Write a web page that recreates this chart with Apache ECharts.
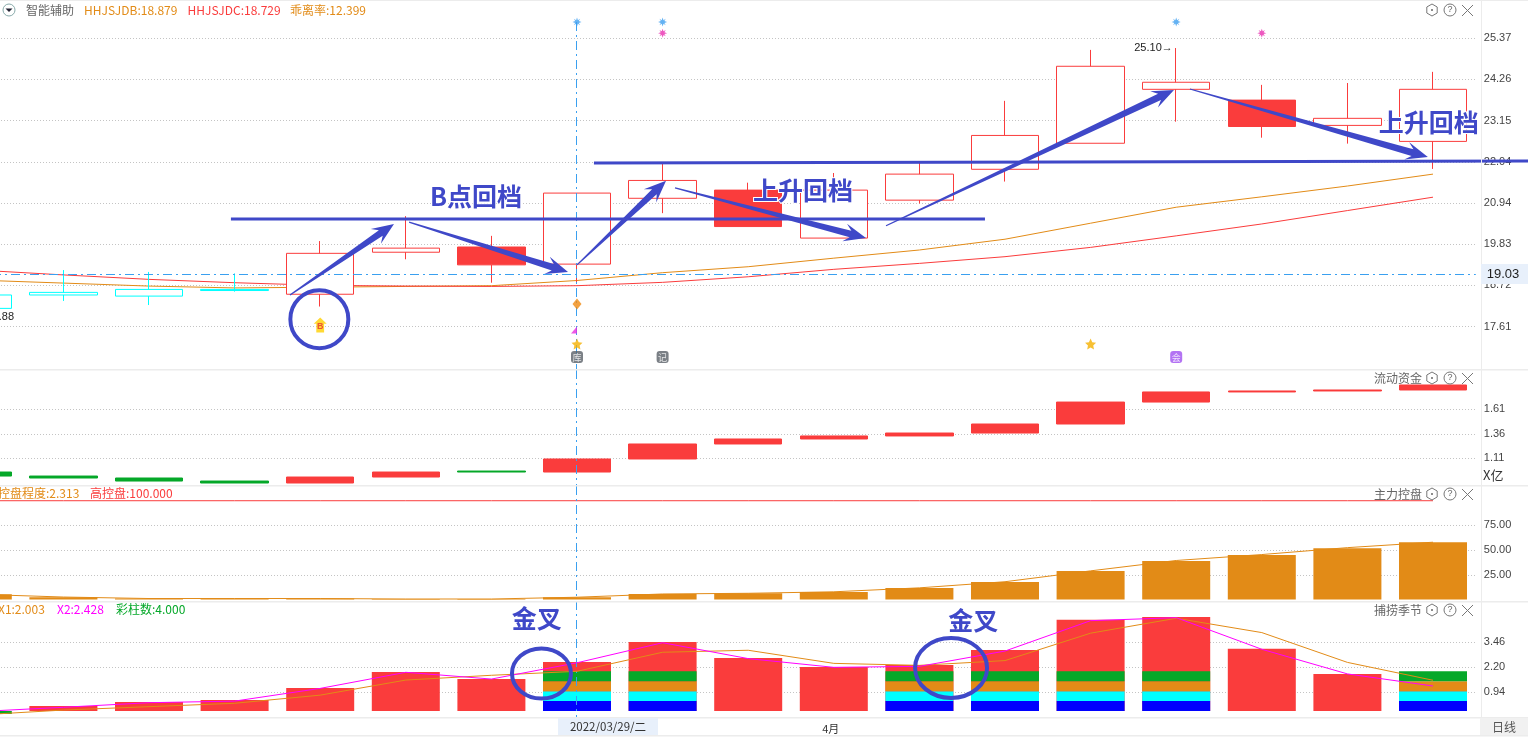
<!DOCTYPE html>
<html><head><meta charset="utf-8">
<style>html,body{margin:0;padding:0;background:#fff;overflow:hidden}#c{width:1528px;height:738px}</style>
<script src="https://cdn.jsdelivr.net/npm/echarts@6/dist/echarts.min.js"></script>
</head><body><div id="c"></div>
<script>
const categories=['03/18','03/21','03/22','03/23','03/24','03/25','03/28','03/29','03/30','03/31','04/01','04/06','04/07','04/08','04/11','04/12','04/13','04/14'];
const xLabels=['','','','','','','','','','','4月','','','','','','',''];
const crossDate='03/29';
// main panel
const candleKind=['c','c','c','c','h','h','f','h','h','f','h','h','h','h','h','f','h','h'];
const candleOpen=[18.10,18.46,18.43,18.58,18.48,19.61,19.75,19.29,21.06,21.28,19.99,21.01,21.84,22.54,23.99,23.70,23.02,22.59];
const candleClose=[18.46,18.53,18.61,18.61,19.58,19.72,19.27,21.20,21.54,20.30,21.28,21.71,22.75,24.61,24.18,22.99,23.21,23.99];
const candleLow=[18.10,18.30,18.19,18.55,18.15,19.42,18.79,18.80,20.66,20.30,19.99,20.92,21.51,22.54,23.12,22.69,22.53,21.85];
const candleHigh=[18.46,19.13,19.08,19.04,19.91,20.58,20.05,21.20,22.02,21.48,21.74,22.02,23.68,25.05,25.10,24.11,24.16,24.46];
const hhjsjdb=[18.86,18.78,18.70,18.65,18.67,18.69,18.71,18.85,19.06,19.22,19.45,19.67,19.96,20.39,20.82,21.10,21.39,21.71];
const hhjsjdc=[19.13,19.00,18.88,18.79,18.72,18.70,18.69,18.71,18.80,18.95,19.15,19.31,19.49,19.74,20.05,20.37,20.73,21.09];
const priceTicks=[25.37,24.26,23.15,22.04,20.94,19.83,18.72,17.61];
const crossPrice=19.03;
// flow panel
const flowKind=['g','g','g','g','r','r','g','r','r','r','r','r','r','r','r','r','r','r'];
const flowFrom=[0.970,0.929,0.909,0.878,0.858,0.919,0.970,0.970,1.103,1.256,1.307,1.338,1.368,1.460,1.684,1.787,1.797,1.807];
const flowTo=[0.929,0.909,0.878,0.858,0.919,0.970,0.980,1.103,1.256,1.307,1.338,1.368,1.460,1.684,1.787,1.797,1.807,1.858];
const flowTicks=[1.61,1.36,1.11];
// control panel
const ctrlBars=[5.3,2.2,1,1,1,0.5,0.5,2.3,5.6,6.3,7.6,11.6,17.7,28.8,39,45,52,58];
const ctrlLine=[5.3,2.5,1,1,1,0.5,0.5,2.3,5.6,6.3,7.8,11.8,18,29,39.5,45.5,52.5,58];
const ctrlHigh=[100,100,100,100,100,100,100,100,100,100,100,100,100,100,100,100,100,100];
const ctrlTicks=[75,50,25];
// season panel
const seasonRed=[null,0.25,0.45,0.55,1.16,1.96,1.61,2.47,3.48,2.67,2.22,2.32,3.07,4.59,4.74,3.13,1.87,1.26];
const seasonNeg=[-0.15,null,null,null,null,null,null,null,null,null,null,null,null,null,null,null,null,null];
const colorBand=[null,null,null,null,null,null,null,0.5,0.5,null,null,0.5,0.5,0.5,0.5,null,null,0.5];
const x1Line=[-0.2,0.05,0.22,0.39,0.8,1.56,1.8,2.0,2.96,3.06,2.4,2.3,2.54,3.92,4.67,3.95,2.45,1.55];
const x2Line=[-0.03,0.19,0.42,0.5,1.14,1.95,1.61,2.43,3.44,2.64,2.2,2.25,3.02,4.55,4.7,3.11,1.87,1.26];
const seasonTicks=[3.46,2.20,0.94];
// hand-drawn annotations, in category-index / value units
const mainArrows=[[3.647,18.46,4.862,20.37],[5.038,20.42,6.895,19.08],[7.0,19.27,8.04,21.53],[8.145,21.34,10.376,19.99],[10.61,20.32,13.974,23.97],[14.16,24.0,16.94,22.17]];
const mainLines=[[2.957,20.50,11.766,20.50],[7.198,22.01,18.11,22.06]];
const mainRings=[[3.99,17.81]];
const seasonRings=[[6.585,1.89],[11.37,2.17]];
const mainNotes=[[5.82,21.10],[9.64,21.26],[16.95,23.11]];
const mainNoteText=['B点回档','上升回档','上升回档'];
const seasonNotes=[[6.53,4.64],[11.63,4.54]];
const seasonNoteText=['金叉','金叉'];
const marksBlue=[[7,25.80],[8,25.80],[14,25.80]];
const marksPink=[[8,25.50],[15,25.50]];
const marksStar=[[7,17.14],[13,17.14]];
const marksDiamond=[[7,18.22]];
const marksFlag=[[7,17.52]];
const marksB=[[4,17.65]];
const marksDocGray=[[7,16.79],[8,16.79]];
const marksDocPurple=[[14,16.79]];

const RED='#fa3c3c',ORG='#e28b17',GRN='#05a829',CY='#00ffff',BLU='#0000ff',INK='#3f48c8',XB='#3aa0f0',GT='#666';
const FONT='"Noto Sans CJK SC","Liberation Sans",sans-serif';
const idx=categories.map((_,i)=>i);
const pick=(kinds,k,f)=>idx.map(i=>kinds[i]===k?f(i):'-');
const candleRow=i=>[candleOpen[i],candleClose[i],candleLow[i],candleHigh[i]];
const flowRow=i=>[flowFrom[i],flowTo[i],Math.min(flowFrom[i],flowTo[i]),Math.max(flowFrom[i],flowTo[i])];

const grids=[[2,367],[370,115],[486,114],[601,116]].map(([top,height])=>({left:-65,width:1540.8,top,height,outerBoundsMode:'none'}));
const xCat=g=>({type:'category',gridIndex:g,data:categories,boundaryGap:true,axisLine:{show:false},axisTick:{show:false},splitLine:{show:false},
  axisLabel:g===3?{show:true,interval:0,margin:6,padding:[0,6,0,0],fontSize:11,color:'#333',fontFamily:FONT,formatter:(v,i)=>xLabels[i]}:{show:false}});
const xVal=g=>({type:'value',gridIndex:g,min:-0.5,max:17.5,show:false});
const yAx=(g,min,max,ticks,d)=>({type:'value',gridIndex:g,position:'right',min,max,scale:true,axisLine:{show:false},
  axisTick:{show:false,customValues:ticks},
  axisLabel:{show:true,customValues:ticks,inside:false,margin:8,align:'left',fontSize:11,color:'#444',fontFamily:'"Liberation Sans",sans-serif',formatter:v=>Number(v).toFixed(d)},
  splitLine:{show:true,lineStyle:{color:'#c4c4c4',type:[1,2],width:1}}});
const DD=[9,4,2,4];
const line=(name,data,color,g,extra)=>Object.assign({type:'line',name,data,xAxisIndex:g,yAxisIndex:g,symbol:'none',z:2,animation:false,lineStyle:{color,width:1}},extra||{});
const candle=(name,data,fill,border,z)=>({type:'candlestick',name,data,xAxisIndex:0,yAxisIndex:0,barWidth:68,z:z||3,animation:false,
  itemStyle:{color:fill,color0:fill,borderColor:border,borderColor0:border,borderWidth:1}});
const flowC=(name,data,c)=>({type:'candlestick',name,data,xAxisIndex:1,yAxisIndex:1,barWidth:68,z:3,animation:false,
  itemStyle:{color:c,color0:c,borderColor:c,borderColor0:c,borderWidth:1}});
const bar=(name,data,color,g,extra)=>Object.assign({type:'bar',name,data,xAxisIndex:g,yAxisIndex:g,barWidth:68,z:2,animation:false,itemStyle:{color}},extra||{});
const pts=(name,data,symbol,size,color,extra)=>Object.assign({type:'scatter',name,data,xAxisIndex:4,yAxisIndex:0,symbol,symbolSize:size,z:5,animation:false,itemStyle:{color},silent:true},extra||{});
const BURST='path://M5 0L6 3L8.5 1.5L7 4L10 5L7 6L8.5 8.5L6 7L5 10L4 7L1.5 8.5L3 6L0 5L3 4L1.5 1.5L4 3Z';
const UP='path://M5 0L10 5L8 5L8 12L2 12L2 5L0 5Z';

function arrowItem(p,api){
  const a=api.coord([api.value(0),api.value(1)]),b=api.coord([api.value(2),api.value(3)]);
  const dx=b[0]-a[0],dy=b[1]-a[1],L=Math.hypot(dx,dy),ux=dx/L,uy=dy/L,nx=-uy,ny=ux;
  const at=(s,w)=>[a[0]+ux*s+nx*w,a[1]+uy*s+ny*w];
  const h=22,neck=L-h+6;
  return {type:'polygon',shape:{points:[at(0,0.6),at(neck,3.4),at(L-h,9),b,at(L-h,-9),at(neck,-3.4),at(0,-0.6)]},style:{fill:INK}};
}
const lineItem=(p,api)=>{const a=api.coord([api.value(0),api.value(1)]),b=api.coord([api.value(2),api.value(3)]);
  return {type:'line',shape:{x1:a[0],y1:a[1],x2:b[0],y2:b[1]},style:{stroke:INK,lineWidth:3}};};
const crossItem=(p,api)=>{const a=api.coord([api.value(0),api.value(1)]),b=api.coord([api.value(0),api.value(2)]);
  return {type:'line',shape:{x1:a[0]-0.5,y1:a[1],x2:b[0]-0.5,y2:b[1]},style:{stroke:XB,lineWidth:1,lineDash:DD}};};
const ringItem=(rx,ry)=>(p,api)=>{const c=api.coord([api.value(0),api.value(1)]);
  const i=p.dataIndex;const r=Array.isArray(rx)?rx[i]:rx,q=Array.isArray(ry)?ry[i]:ry;
  return {type:'ellipse',shape:{cx:c[0],cy:c[1],rx:r,ry:q},style:{stroke:INK,lineWidth:4,fill:null}};};
const noteItem=texts=>(p,api)=>{const c=api.coord([api.value(0),api.value(1)]);
  return {type:'text',style:{text:texts[p.dataIndex],x:c[0],y:c[1],align:'center',verticalAlign:'middle',fill:INK,stroke:'#fff',lineWidth:2,
    font:'bold 25px '+FONT,shadowBlur:4,shadowColor:'rgba(90,90,120,.6)',shadowOffsetX:1,shadowOffsetY:1}};};
const custom=(name,data,renderItem,xi,yi,z)=>({type:'custom',name,data,renderItem,xAxisIndex:xi,yAxisIndex:yi,z:z||20,clip:false,silent:true,animation:false});
const smallNote=[[13.96,25.11,'25.10→'],[0.423,17.87,'18.88']];
const smallItem=(p,api)=>{const c=api.coord([api.value(0),api.value(1)]);
  return {type:'text',style:{text:smallNote[p.dataIndex][2],x:c[0],y:c[1],align:'right',verticalAlign:'middle',fill:'#222',font:'11px "Liberation Sans",sans-serif'}};};

const T=(text,x,y,fill,o)=>Object.assign({type:'text',z:60,style:Object.assign({text,x,y,fill,font:'12px '+FONT,verticalAlign:'middle'},o||{})});
const R=(x,y,w,h,fill,z)=>({type:'rect',z:z||50,shape:{x,y,width:w,height:h},style:{fill}});
function icons(y){
  const hex=[0,1,2,3,4,5].map(k=>[1432+6*Math.cos(Math.PI/6+k*Math.PI/3),y+6*Math.sin(Math.PI/6+k*Math.PI/3)]);
  return [
  {type:'polygon',z:60,shape:{points:hex},style:{fill:null,stroke:'#777',lineWidth:1}},
  {type:'circle',z:60,shape:{cx:1432,cy:y,r:1},style:{fill:'#666'}},
  {type:'circle',z:60,shape:{cx:1450,cy:y,r:6},style:{fill:null,stroke:'#777',lineWidth:1}},
  T('?',1450,y,'#666',{align:'center',font:'9px "Liberation Sans"'}),
  {type:'line',z:60,shape:{x1:1462,y1:y-5,x2:1473,y2:y+6},style:{stroke:'#777',lineWidth:1}},
  {type:'line',z:60,shape:{x1:1473,y1:y-5,x2:1462,y2:y+6},style:{stroke:'#777',lineWidth:1}}];}
const chrome=[
  R(0,0,1528,1,'#ececec'),R(0,369,1528,1.5,'#ececec'),R(0,485,1528,1.5,'#ececec'),R(0,601,1528,1.5,'#ececec'),R(0,717,1528,1.5,'#ececec'),R(0,735,1528,1.5,'#ececec'),
  R(1481,0,1,717,'#ececec'),R(1480,718,48,17,'#f1f1f1'),T('日线',1504,727,'#555',{align:'center'}),
  R(558,718,100,17,'#e8f0fb'),T('2022/03/29/二',608,727,'#333',{align:'center',font:'11.5px '+FONT}),
  R(1481,264,47,20,'#e8f0fb'),T('19.03',1503,274,'#222',{align:'center',font:'13px "Liberation Sans"'}),
  {type:'circle',z:60,shape:{cx:9,cy:10,r:6},style:{fill:'#fff',stroke:'#8aa',lineWidth:1}},
  {type:'polygon',z:61,shape:{points:[[5.5,8.5],[12.5,8.5],[9,12]]},style:{fill:'#223'}},
  T('智能辅助',26,10.5,GT),T('HHJSJDB:18.879',84,10.5,ORG),T('HHJSJDC:18.729',187.5,10.5,RED),T('乖离率:12.399',290,10.5,ORG),
  ...icons(10),
  T('流动资金',1422,378,GT,{align:'right'}),...icons(378),
  T('主力控盘',1422,494,GT,{align:'right'}),...icons(494),
  T('捕捞季节',1422,610,GT,{align:'right'}),...icons(610),
  T('X亿',1483,475,'#333',{font:'13px '+FONT}),
  T('控盘程度:2.313',-2,493,ORG),T('高控盘:100.000',90,493,RED),
  T('X1:2.003',-2,609,ORG),T('X2:2.428',57,609,'#f0f'),T('彩柱数:4.000',116,609,GRN)
];

const series=[
  line('HHJSJDB',hhjsjdb,ORG,0),
  line('HHJSJDC',hhjsjdc,RED,0,{markLine:{silent:true,symbol:'none',label:{show:false},animation:false,lineStyle:{color:XB,type:DD,width:1},data:[{yAxis:crossPrice}]}}),
  candle('cyan',pick(candleKind,'c',candleRow),'#fff',CY),
  candle('hollow',pick(candleKind,'h',candleRow),'#fff',RED),
  candle('filled',pick(candleKind,'f',candleRow),RED,RED),
  flowC('flowRed',pick(flowKind,'r',flowRow),RED),
  flowC('flowGreen',pick(flowKind,'g',flowRow),GRN),
  bar('ctrl',ctrlBars,ORG,2),
  line('ctrlLine',ctrlLine,ORG,2,{z:3}),
  line('ctrlHigh',ctrlHigh,RED,2,{z:3}),
  bar('seasonRed',seasonRed,RED,3,{barGap:'-100%',stack:'r'}),
  bar('seasonNeg',seasonNeg,GRN,3,{stack:'r'}),
  bar('b1',colorBand,BLU,3,{stack:'c',z:3}),
  bar('b2',colorBand,CY,3,{stack:'c',z:3}),
  bar('b3',colorBand,ORG,3,{stack:'c',z:3}),
  bar('b4',colorBand,GRN,3,{stack:'c',z:3}),
  line('X1',x1Line,ORG,3,{z:4}),
  line('X2',x2Line,'#ff00ff',3,{z:4}),
  // crosshair in each panel
  custom('crossMain',[[crossDate,25.80,16.47]],crossItem,0,0,4),
  custom('crossFlow',[[crossDate,2.011,0.8376]],crossItem,1,1,4),
  custom('crossCtrl',[[crossDate,114.9,-0.5]],crossItem,2,2,4),
  custom('crossSeason',[[crossDate,5.54,-0.3]],crossItem,3,3,4),
  // signal marks
  pts('blue',marksBlue,BURST,9,'#3d9ff0'),
  pts('pink',marksPink,BURST,9,'#e830b0'),
  pts('star',marksStar,'path://M5 0L6.5 3.4L10 3.8L7.4 6.2L8.1 10L5 8L1.9 10L2.6 6.2L0 3.8L3.5 3.4Z',11,'#f5b000'),
  pts('diamond',marksDiamond,'diamond',[9,11],'#f08a10'),
  pts('flag',marksFlag,'path://M10 0L10 10L0 10Z',[6,7],'#e830e0',{symbolOffset:[-3,0]}),
  pts('B',marksB,UP,[13,15],'#ffd000',{label:{show:true,formatter:'B',position:'inside',offset:[0,1],color:'#e83030',fontSize:9,fontWeight:'bold'}}),
  pts('docGray',marksDocGray,'roundRect',[12,12],'#5a6068',{label:{show:true,formatter:params=>params.dataIndex===0?'库':'记',color:'#fff',fontSize:9,position:'inside',fontFamily:FONT}}),
  pts('docPurple',marksDocPurple,'roundRect',[12,12],'#a050f0',{label:{show:true,formatter:'会',color:'#fff',fontSize:9,position:'inside',fontFamily:FONT}}),
  // annotations
  custom('mainLines',mainLines,lineItem,4,0),
  custom('mainArrows',mainArrows,arrowItem,4,0),
  custom('mainRings',mainRings,ringItem(29,29),4,0),
  custom('mainNotes',mainNotes,noteItem(mainNoteText),4,0),
  custom('smallNotes',smallNote.map(r=>[r[0],r[1]]),smallItem,4,0),
  custom('seasonRings',seasonRings,ringItem([29.5,36],[25,30]),5,3),
  custom('seasonNotes',seasonNotes,noteItem(seasonNoteText),5,3)
];

const chart=echarts.init(document.getElementById('c'),null,{renderer:'canvas'});
chart.setOption({animation:false,backgroundColor:'#fff',grid:grids,
  xAxis:[xCat(0),xCat(1),xCat(2),xCat(3),xVal(0),xVal(3)],
  yAxis:[yAx(0,16.47,26.338,priceTicks,2),yAx(1,0.8376,2.011,flowTicks,2),yAx(2,-0.5,114.9,ctrlTicks,2),yAx(3,-0.3,5.54,seasonTicks,2)],
  series,graphic:{elements:chrome}});
</script></body></html>
